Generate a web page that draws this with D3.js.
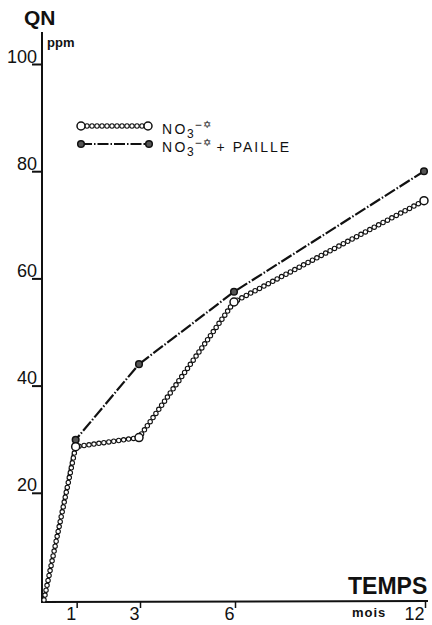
<!DOCTYPE html>
<html><head><meta charset="utf-8">
<script src="https://cdn.jsdelivr.net/npm/d3@7"></script>
<style>body{margin:0;background:#fff}svg{display:block}</style>
</head><body>
<svg id="c" width="432" height="625"></svg>
<script>
// ---- data ----
const months = [0, 1, 3, 6, 12];
const no3 = [0, 28.6, 30.3, 55.6, 74.5];
const no3Paille = [0, 29.9, 44.0, 57.5, 80.0];
const yTicks = [20, 40, 60, 80, 100];
const xTicks = [1, 3, 6, 12];
const yTitle = "QN", yUnit = "ppm", xTitle = "TEMPS", xUnit = "mois";

const FONT = "'Liberation Sans', Arial, Helvetica, sans-serif";
const svg = d3.select("#c");
const x = d3.scaleLinear().domain([0, 12]).range([44, 424]);
const y = d3.scaleLinear().domain([0, 100]).range([600, 64]);
const axX = 42, axY = 602;

// axes lines
svg.append("line").attr("x1", axX).attr("x2", axX).attr("y1", 32).attr("y2", axY + 1)
  .attr("stroke", "#111").attr("stroke-width", 2);
svg.append("line").attr("x1", axX - 1).attr("x2", 428).attr("y1", axY).attr("y2", axY - 1)
  .attr("stroke", "#111").attr("stroke-width", 2);

// y axis
const gy = svg.append("g").attr("transform", `translate(${axX},0)`)
  .call(d3.axisLeft(y).tickValues(yTicks).tickSize(10).tickFormat(d3.format("d")));
gy.select(".domain").remove();
gy.selectAll(".tick line").attr("stroke", "#111").attr("stroke-width", 2);
gy.selectAll(".tick text").attr("x", -5).attr("dy", "-2px")
  .attr("font-family", FONT).attr("font-size", 18).attr("fill", "#111").attr("text-anchor", "end");

// x axis
const gx = svg.append("g").attr("transform", `translate(0,${axY})`)
  .call(d3.axisBottom(x).tickValues(xTicks).tickSize(6).tickFormat(d3.format("d")));
gx.select(".domain").remove();
gx.selectAll(".tick line").attr("stroke", "#111").attr("stroke-width", 1.5).attr("transform", "translate(1,0)");
gx.selectAll(".tick text").attr("x", 0).attr("y", 18).attr("dy", 0)
  .attr("font-family", FONT).attr("font-size", 18).attr("fill", "#111").attr("text-anchor", "end");

// titles
svg.append("text").attr("x", 24).attr("y", 25).text(yTitle)
  .attr("font-family", FONT).attr("font-weight", "bold").attr("font-size", 21).attr("fill", "#111");
svg.append("text").attr("x", 47).attr("y", 47).text(yUnit)
  .attr("font-family", FONT).attr("font-weight", "bold").attr("font-size", 13).attr("fill", "#111");
svg.append("text").attr("x", 348).attr("y", 594).text(xTitle)
  .attr("font-family", FONT).attr("font-weight", "bold").attr("font-size", 23).attr("fill", "#111");
svg.append("text").attr("x", 352).attr("y", 617).text(xUnit)
  .attr("font-family", FONT).attr("font-weight", "bold").attr("font-size", 13)
  .attr("letter-spacing", 1).attr("fill", "#111");

// helpers
function chain(g, pts, step, r) {
  const p = g.append("path").attr("d", d3.line()(pts)).attr("fill", "none").attr("stroke", "none");
  const L = p.node().getTotalLength();
  const arr = [];
  for (let l = 0; l <= L; l += step) arr.push(p.node().getPointAtLength(l));
  g.selectAll(null).data(arr).join("circle")
    .attr("cx", d => d.x).attr("cy", d => d.y).attr("r", r)
    .attr("fill", "#fff").attr("stroke", "#111").attr("stroke-width", 1.1);
  p.remove();
}

// series 2: NO3 + paille (dash-dot, filled markers)
const s2 = months.map((m, i) => [x(m), y(no3Paille[i])]);
const g2 = svg.append("g");
g2.append("path").attr("d", d3.line()(s2)).attr("fill", "none")
  .attr("stroke", "#111").attr("stroke-width", 2.2).attr("stroke-dasharray", "12,2,1.5,2");
g2.selectAll("circle").data(s2.slice(1)).join("circle")
  .attr("cx", d => d[0]).attr("cy", d => d[1]).attr("r", 3.3)
  .attr("fill", "#555").attr("stroke", "#111").attr("stroke-width", 1.5);

// series 1: NO3 (chain of open circles)
const s1 = months.map((m, i) => [x(m), y(no3[i])]);
const g1 = svg.append("g");
chain(g1, s1, 5, 2.2);
g1.selectAll("circle.big").data(s1.slice(1)).join("circle").attr("class", "big")
  .attr("cx", d => d[0]).attr("cy", d => d[1]).attr("r", 4)
  .attr("fill", "#fff").attr("stroke", "#111").attr("stroke-width", 1.5);

// legend
const lg = svg.append("g");
chain(lg, [[82, 126], [147, 126]], 5, 2.2);
lg.selectAll("circle.e").data([[81, 126], [148, 126]]).join("circle").attr("class", "e")
  .attr("cx", d => d[0]).attr("cy", d => d[1]).attr("r", 4)
  .attr("fill", "#fff").attr("stroke", "#111").attr("stroke-width", 1.5);
lg.append("line").attr("x1", 81).attr("x2", 149).attr("y1", 144).attr("y2", 144)
  .attr("stroke", "#111").attr("stroke-width", 2).attr("stroke-dasharray", "11,2,1.5,2");
lg.selectAll("circle.f").data([[81, 144], [149, 144]]).join("circle").attr("class", "f")
  .attr("cx", d => d[0]).attr("cy", d => d[1]).attr("r", 3.3)
  .attr("fill", "#555").attr("stroke", "#111").attr("stroke-width", 1.5);

function label(yb, extra) {
  const t = lg.append("text").attr("x", 162).attr("y", yb)
    .attr("font-family", FONT).attr("font-size", 14).attr("fill", "#111");
  t.append("tspan").text("NO").attr("letter-spacing", 2.5);
  t.append("tspan").text("3").attr("dy", 4).attr("font-size", 12).attr("dx", -1);
  t.append("tspan").text("−").attr("dy", -9).attr("font-size", 12).attr("dx", 1);
  t.append("tspan").text("✡").attr("dy", -1).attr("font-size", 10).attr("dx", 1);
  if (extra) t.append("tspan").text(extra).attr("dy", 6).attr("letter-spacing", 2);
}
label(134, null);
label(152, " + PAILLE");
</script>
</body></html>
